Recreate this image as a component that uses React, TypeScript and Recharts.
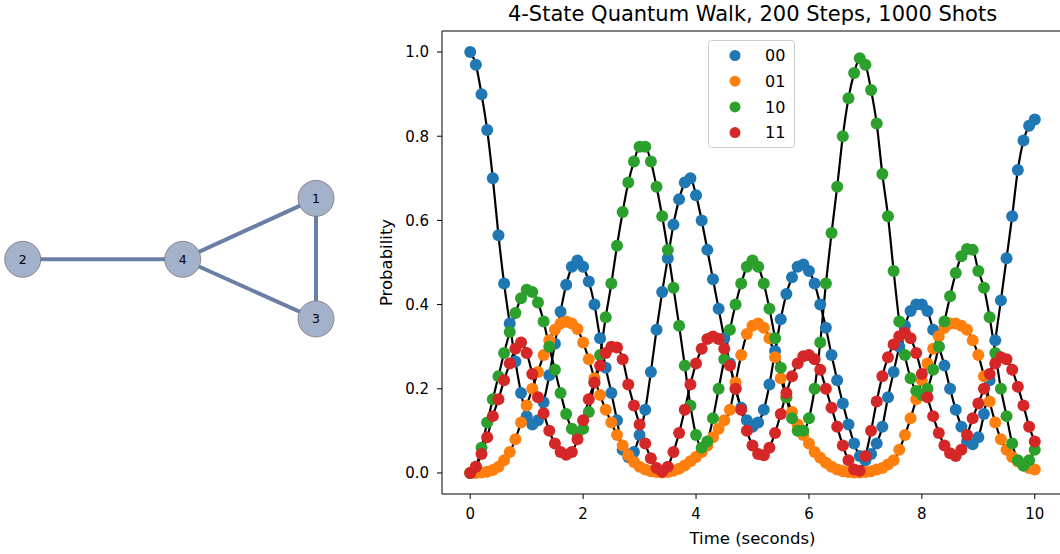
import React from 'react';
import { ComposedChart, Line, XAxis, YAxis, ReferenceLine, ScatterChart, Scatter } from 'recharts';

// time axis, 0..10 s
const TIME = [
  0, 0.1, 0.2, 0.3, 0.4, 0.5, 0.6, 0.7, 0.8, 0.9,
  1, 1.1, 1.2, 1.3, 1.4, 1.5, 1.6, 1.7, 1.8, 1.9,
  2, 2.1, 2.2, 2.3, 2.4, 2.5, 2.6, 2.7, 2.8, 2.9,
  3, 3.1, 3.2, 3.3, 3.4, 3.5, 3.6, 3.7, 3.8, 3.9,
  4, 4.1, 4.2, 4.3, 4.4, 4.5, 4.6, 4.7, 4.8, 4.9,
  5, 5.1, 5.2, 5.3, 5.4, 5.5, 5.6, 5.7, 5.8, 5.9,
  6, 6.1, 6.2, 6.3, 6.4, 6.5, 6.6, 6.7, 6.8, 6.9,
  7, 7.1, 7.2, 7.3, 7.4, 7.5, 7.6, 7.7, 7.8, 7.9,
  8, 8.1, 8.2, 8.3, 8.4, 8.5, 8.6, 8.7, 8.8, 8.9,
  9, 9.1, 9.2, 9.3, 9.4, 9.5, 9.6, 9.7, 9.8, 9.9,
  10,
];

// state 00
const P00 = [
  1.0, 0.97, 0.9, 0.815, 0.7, 0.565, 0.45, 0.355, 0.265, 0.19,
  0.135, 0.115, 0.125, 0.168, 0.232, 0.307, 0.383, 0.447, 0.49, 0.505,
  0.49, 0.455, 0.4, 0.32, 0.25, 0.19, 0.125, 0.055, 0.038, 0.05,
  0.09, 0.15, 0.24, 0.34, 0.43, 0.51, 0.59, 0.65, 0.69, 0.7,
  0.66, 0.6, 0.53, 0.46, 0.39, 0.32, 0.26, 0.2, 0.155, 0.125,
  0.11, 0.12, 0.15, 0.21, 0.29, 0.365, 0.425, 0.465, 0.49, 0.495,
  0.48, 0.45, 0.4, 0.345, 0.28, 0.22, 0.165, 0.115, 0.07, 0.04,
  0.03, 0.045, 0.07, 0.11, 0.18, 0.24, 0.3, 0.35, 0.385, 0.4,
  0.4, 0.385, 0.34, 0.3, 0.255, 0.2, 0.15, 0.11, 0.075, 0.068,
  0.085, 0.14, 0.22, 0.315, 0.41, 0.51, 0.61, 0.72, 0.79, 0.825,
  0.84,
];

// state 01
const P01 = [
  0.0, 0.0, 0.001, 0.003, 0.007, 0.015, 0.03, 0.05, 0.08, 0.12,
  0.16, 0.2, 0.24, 0.28, 0.315, 0.34, 0.355, 0.36, 0.355, 0.342,
  0.31, 0.27, 0.225, 0.185, 0.15, 0.12, 0.09, 0.065, 0.042, 0.026,
  0.015, 0.008, 0.004, 0.002, 0.001, 0.002, 0.005, 0.01, 0.018, 0.028,
  0.038, 0.05, 0.065, 0.085, 0.105, 0.125, 0.15, 0.215, 0.28, 0.33,
  0.35, 0.355, 0.345, 0.32, 0.275, 0.225, 0.18, 0.145, 0.115, 0.09,
  0.07, 0.05, 0.036, 0.024, 0.015, 0.008, 0.004, 0.002, 0.001, 0.001,
  0.002, 0.004, 0.008, 0.012, 0.02, 0.03, 0.055, 0.09, 0.13, 0.175,
  0.22, 0.26, 0.295, 0.325, 0.345, 0.355, 0.355, 0.35, 0.34, 0.315,
  0.28, 0.23, 0.17, 0.12, 0.08, 0.055, 0.038, 0.027, 0.018, 0.012,
  0.008,
];

// state 10
const P10 = [
  0.0, 0.015, 0.06, 0.12, 0.175, 0.23, 0.285, 0.335, 0.38, 0.415,
  0.435, 0.43, 0.405, 0.36, 0.3, 0.245, 0.19, 0.14, 0.105, 0.095,
  0.105, 0.145, 0.215, 0.28, 0.37, 0.45, 0.54, 0.62, 0.69, 0.74,
  0.775, 0.775, 0.74, 0.68, 0.61, 0.53, 0.44, 0.35, 0.255, 0.16,
  0.09, 0.06, 0.075, 0.13, 0.2, 0.27, 0.34, 0.4, 0.45, 0.49,
  0.505, 0.49, 0.45, 0.39, 0.32, 0.25, 0.18, 0.13, 0.1, 0.1,
  0.13, 0.2, 0.31, 0.45, 0.57, 0.68, 0.8, 0.89, 0.95, 0.985,
  0.97, 0.91, 0.83, 0.71, 0.61, 0.48, 0.36, 0.28, 0.225, 0.195,
  0.185, 0.2, 0.245, 0.3, 0.36, 0.42, 0.475, 0.515, 0.532, 0.53,
  0.48, 0.44, 0.37, 0.285, 0.2, 0.135, 0.07, 0.03, 0.017, 0.03,
  0.055,
];

// state 11
const P11 = [
  0.0, 0.015, 0.045, 0.085, 0.135, 0.175, 0.22, 0.26, 0.295, 0.31,
  0.285, 0.235, 0.18, 0.142, 0.1, 0.07, 0.05, 0.043, 0.05, 0.08,
  0.125, 0.175, 0.215, 0.255, 0.285, 0.3, 0.298, 0.27, 0.21, 0.16,
  0.115, 0.07, 0.035, 0.012, 0.003, 0.015, 0.05, 0.095, 0.15, 0.21,
  0.26, 0.295, 0.318, 0.324, 0.318, 0.295, 0.255, 0.2, 0.15, 0.1,
  0.065, 0.045, 0.042, 0.06, 0.095, 0.14, 0.19, 0.23, 0.26, 0.277,
  0.28, 0.27, 0.245, 0.2, 0.155, 0.11, 0.065, 0.03, 0.008, 0.005,
  0.04, 0.1, 0.17, 0.23, 0.275, 0.305, 0.325, 0.333, 0.32, 0.285,
  0.235, 0.18, 0.135, 0.095, 0.065, 0.047, 0.04, 0.055, 0.09, 0.13,
  0.165, 0.2, 0.235, 0.26, 0.275, 0.27, 0.245, 0.205, 0.16, 0.11,
  0.075,
];

const STATE_LABELS = ['00', '01', '10', '11'];
const STATE_COLORS = ['#1f77b4', '#ff7f0e', '#2ca02c', '#d62728'];
const SERIES_KEYS = ['s00', 's01', 's10', 's11'];
const X_TICKS = [0, 2, 4, 6, 8, 10];
const Y_TICKS = [0, 0.2, 0.4, 0.6, 0.8, 1.0];

// graph drawn on the left
const NODE_IDS = ['1', '2', '3', '4'];
const NODE_X = [1.833, 0, 1.833, 1];
const NODE_Y = [0.381, 0, -0.373, 0];
const EDGES = [[0, 2], [0, 3], [2, 3], [1, 3]];

const FONT = '"DejaVu Sans", sans-serif';

const chartData = TIME.map((t, i) => ({ t, s00: P00[i], s01: P01[i], s10: P10[i], s11: P11[i] }));
const nodeData = NODE_IDS.map((id, i) => ({ id, x: NODE_X[i], y: NODE_Y[i] }));

const NodeShape = (props: any) => {
  const { cx, cy, payload } = props;
  return (
    <g>
      <circle cx={cx} cy={cy} r={18} fill="#a4b1ca" stroke="#777" strokeWidth={0.8} />
      <text x={cx} y={cy} dy="0.36em" textAnchor="middle" fontSize={12.5} fontFamily={FONT} fill="#000">
        {payload.id}
      </text>
    </g>
  );
};

const NoShape = () => <g />;

const GraphPanel = () => (
  <ScatterChart width={340} height={554} margin={{ top: 0, right: 0, bottom: 0, left: 0 }}>
    <XAxis type="number" dataKey="x" domain={[-0.142, 1.983]} hide allowDataOverflow />
    <YAxis type="number" dataKey="y" domain={[-1.842, 1.6206]} hide allowDataOverflow />
    {EDGES.map(([a, b], i) => (
      <Scatter
        key={'e' + i}
        data={[nodeData[a], nodeData[b]]}
        line={{ stroke: '#6a7ea6', strokeWidth: 4 }}
        shape={NoShape}
        fill="#6a7ea6"
        isAnimationActive={false}
      />
    ))}
    <Scatter data={nodeData} shape={NodeShape} isAnimationActive={false} />
  </ScatterChart>
);

const tickStyle = { fill: '#000', fontSize: 15, fontFamily: FONT };

const WalkChart = () => (
  <ComposedChart width={721} height={554} data={chartData} margin={{ top: 31, right: 0, bottom: 0, left: 0 }}>
    <XAxis
      dataKey="t"
      type="number"
      domain={[-0.5, 10.5]}
      ticks={X_TICKS}
      interval={0}
      height={60}
      tickSize={5}
      tickMargin={9}
      allowDataOverflow
      axisLine={{ stroke: '#000' }}
      tickLine={{ stroke: '#000' }}
      tick={tickStyle}
    />
    <YAxis
      type="number"
      domain={[-0.05, 1.05]}
      ticks={Y_TICKS}
      interval={0}
      width={100}
      tickSize={5}
      tickMargin={8}
      allowDataOverflow
      tickFormatter={(v: number) => v.toFixed(1)}
      axisLine={{ stroke: '#000' }}
      tickLine={{ stroke: '#000' }}
      tick={tickStyle}
    />
    <ReferenceLine y={1.05} stroke="#000" />
    {SERIES_KEYS.map((k, i) => (
      <Line
        key={'d' + k}
        dataKey={k}
        stroke="none"
        dot={{ r: 6, fill: STATE_COLORS[i], stroke: 'none', strokeWidth: 0 }}
        activeDot={false}
        isAnimationActive={false}
      />
    ))}
    {SERIES_KEYS.map((k) => (
      <Line
        key={'l' + k}
        dataKey={k}
        type="monotone"
        stroke="#000"
        strokeWidth={2.2}
        dot={false}
        activeDot={false}
        isAnimationActive={false}
      />
    ))}
  </ComposedChart>
);

export default function App() {
  return (
    <div
      style={{
        position: 'absolute',
        left: 0,
        top: 0,
        width: 1060,
        height: 554,
        overflow: 'hidden',
        background: '#fff',
        fontFamily: FONT,
      }}
    >
      <div style={{ position: 'absolute', left: 0, top: 0 }}>
        <GraphPanel />
      </div>
      <div style={{ position: 'absolute', left: 342, top: 0 }}>
        <WalkChart />
      </div>
      <svg width={1060} height={554} style={{ position: 'absolute', left: 0, top: 0, pointerEvents: 'none' }}>
        <text x={752.5} y={21} textAnchor="middle" fontSize={21} fontFamily={FONT} fill="#000">
          4-State Quantum Walk, 200 Steps, 1000 Shots
        </text>
        <text x={752.5} y={544} textAnchor="middle" fontSize={16.5} fontFamily={FONT} fill="#000">
          Time (seconds)
        </text>
        <text transform="translate(392,262.5) rotate(-90)" textAnchor="middle" fontSize={16.5} fontFamily={FONT} fill="#000">
          Probability
        </text>
        <rect x={708.5} y={40.5} width={86} height={107} rx={3} fill="#fff" fillOpacity={0.8} stroke="#cccccc" />
        {STATE_LABELS.map((lab, i) => (
          <g key={lab}>
            <circle cx={735} cy={55.5 + i * 25.7} r={5.5} fill={STATE_COLORS[i]} />
            <text x={765} y={55.5 + i * 25.7 + 5.7} fontSize={16} fontFamily={FONT} fill="#000">
              {lab}
            </text>
          </g>
        ))}
      </svg>
    </div>
  );
}
